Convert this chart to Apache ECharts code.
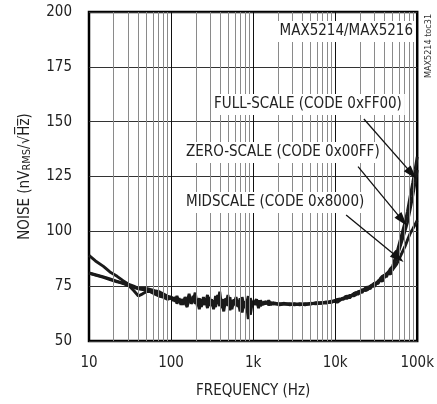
<!DOCTYPE html>
<html><head><meta charset="utf-8">
<script src="https://cdn.jsdelivr.net/npm/echarts@6/dist/echarts.min.js"></script>
<style>html,body{margin:0;padding:0;background:#fff}#c{width:437px;height:404px}</style>
</head><body><div id="c"></div>
<script>
var FONT = "'DejaVu Sans Condensed','Liberation Sans Narrow',sans-serif";
var freq = [10,12,15,18,22,26,30,35,40,45,50,56,63,71,80,90,100,
106,112,118,125,132,140,148,157,166,176,186,197,209,221,234,248,262,278,294,311,
330,349,370,392,415,439,465,493,522,552,585,619,656,694,735,779,825,873,925,980,
1038,1099,1164,1233,1306,1383,1465,1551,1643,1740,
1900,2100,2400,2800,3200,3700,4300,5000,5800,6700,7800,9000,
10000,10600,11200,11900,12600,13300,14100,15000,15800,16800,17800,18900,20000,21200,22400,23700,25100,26600,28200,29900,
31600,33500,35500,37600,39800,42200,44700,47300,50100,
56200,63100,70800,76000,82000,88000,94000,100000];
var fullScale = [89,86.5,84,81.5,79.5,77.5,76,75,74,74,74,73.5,73,72.5,71.5,70.5,70,
69.5,68,70.5,67.5,69,66.5,70,68,71.5,67,68.5,72,66,69.5,65.5,70,67,71,66,69,
64.5,70.5,67,72.5,65,69,66.5,71,64,68.5,67,70,65.5,69.5,63,68,66.5,70.5,62,68,
67.5,69,65,68.5,66.5,68,67,68.5,66.5,67.5,
67,66.8,67.2,66.5,67,66.5,66.8,67,67.2,67.5,67.3,68.2,
68,68.8,68.3,69.2,69.5,68.8,70.2,70.8,71.5,70.6,71,72.4,72.8,72,73.5,74.4,74.5,73.8,75,76.4,
77,76.2,78.5,79.5,80,79.2,81.5,83,84,
90,97,104,109,116,122,128,134];
var zeroScale = [81,80,79,78,77,76.5,75.5,73,70.5,71.5,72.5,72.5,72,71.5,70.5,70,69.5,
68.5,70,67,69.5,66.5,69,67.5,65.5,69,68,70.5,67,68.5,64.5,69,66.5,68.5,65,70,66,
68.5,65.5,71,66.5,68,63.5,69.5,66,70,64.5,69,66,68.5,63.5,70,65,68,60,69.5,66,
68,66.5,68.5,66,67.5,67,68,66.5,67.5,67,
67.2,66.5,67,66.8,66.5,67,66.5,67.2,67,67.2,67.8,67.5,
68.5,67.6,68.2,69,69,70.2,70.5,69.6,70.5,71.6,72,71.2,72,73.4,74,73,73.5,75,75.5,74.8,
76,77.5,78,77.2,79,80.6,81,80.4,83,
88,94,100,104,110,116,122,128];
var midScale = [81,80.2,79.2,78.3,77.2,76.2,75.2,74.5,73.8,73.5,73,72.5,71.5,70.5,70,69,69.5,
69,68.5,69.5,68,68.5,67.5,69,67,68.5,68,67.5,69,67,68,66.5,68.5,67.5,67,69,66.5,
68,67,68.5,66,69,67,67.5,66.5,68.5,66,67.5,67,68,65.5,67.5,66.5,67,66,67.5,66.5,
67,67.5,66.5,67.5,67,67,67.5,66.5,67,67,
66.8,67,66.8,67,66.8,66.8,67,66.8,67.5,67.3,67.5,68,
68.5,68.9,68.5,69.2,69.5,69.2,69.5,70.4,71,71.4,72,72.2,72.5,72.6,73,73.8,74.5,74.8,75.5,76,
76.5,77,77.5,78.5,80,80.6,81.5,82,82.5,
85,89,93,96,99,101,103,105];
var xTickValues = [10,100,1000,10000,100000];
var xTickLabels = ['10','100','1k','10k','100k'];
var yTicks = [50,75,100,125,150,175,200];
var seriesNames = ['FULL-SCALE (CODE 0xFF00)','ZERO-SCALE (CODE 0x00FF)','MIDSCALE (CODE 0x8000)'];
// arrows: [startFreq, startVal, tipFreq, tipVal]
var arrows = [[22400,151.2,86000,126.3],[19000,129.5,66000,105],[13600,107.5,58600,88]];

var minorX = [], majorX = [];
for (var d = 10; d < 100000; d *= 10) { for (var m = 2; m <= 9; m++) minorX.push(d*m); if (d > 10) majorX.push(d); }

function pairs(vals){ return freq.map(function(f,i){ return [f, vals[i]]; }); }
var lineStyle = {color:'#1a1a1a', width:2.9};
var FS = 15;
var chart = echarts.init(document.getElementById('c'));
chart.setOption({
  animation:false,
  grid:{left:89, right:15, top:12, bottom:60, show:true, borderColor:'#000', borderWidth:2.5, backgroundColor:'transparent'},
  xAxis:{type:'log', logBase:10, min:10, max:100000,
    name:'FREQUENCY (Hz)', nameLocation:'middle', nameGap:43,
    nameTextStyle:{fontFamily:FONT, fontSize:FS, color:'#222'},
    axisLine:{show:false}, axisTick:{show:false}, splitLine:{show:false},
    axisLabel:{fontFamily:FONT, fontSize:FS, color:'#222', margin:15,
      formatter:function(v){ var i = xTickValues.indexOf(Math.round(v)); return i>=0 ? xTickLabels[i] : ''; }}
  },
  yAxis:{type:'value', min:yTicks[0], max:yTicks[yTicks.length-1], interval:25,
    name:'{a|NOISE (nV}{s|RMS}{a|/√H\u0305z\u0305)}', nameLocation:'middle', nameGap:56,
    nameTextStyle:{rich:{a:{fontFamily:FONT, fontSize:FS, color:'#222'}, s:{fontFamily:FONT, fontSize:11, color:'#222', padding:[5,0,0,0]}}},
    axisLine:{show:false}, axisTick:{show:false},
    splitLine:{show:true, lineStyle:{color:'#333', width:1}},
    axisLabel:{fontFamily:FONT, fontSize:FS, color:'#222', margin:17}
  },
  series:[
    {type:'line', z:1, data:[], silent:true,
     markLine:{silent:true, symbol:'none', label:{show:false},
       data: minorX.map(function(x){ return {xAxis:x, lineStyle:{color:'#8a8a8a', width:1, type:'solid'}}; })
         .concat(majorX.map(function(x){ return {xAxis:x, lineStyle:{color:'#111', width:1, type:'solid'}}; }))}
    },
    {name:seriesNames[0], type:'line', z:3, showSymbol:false, data:pairs(fullScale), lineStyle:lineStyle},
    {name:seriesNames[1], type:'line', z:3, showSymbol:false, data:pairs(zeroScale), lineStyle:lineStyle},
    {name:seriesNames[2], type:'line', z:3, showSymbol:false, data:pairs(midScale), lineStyle:lineStyle,
     markLine:{silent:true, symbol:['none','triangle'], symbolSize:[9,14], label:{show:false},
       lineStyle:{color:'#111', width:1.3, type:'solid'},
       data: arrows.map(function(a){ return [{coord:[a[0],a[1]]},{coord:[a[2],a[3]]}]; })}
    }
  ],
  graphic:{elements:[
    {type:'text', z:100, right:22, top:21, style:{text:'MAX5214/MAX5216', font:FS+'px '+FONT, fill:'#222', backgroundColor:'#fff', padding:[3,2,3,2]}},
    {type:'text', z:100, left:211, top:94, style:{text:seriesNames[0], font:FS+'px '+FONT, fill:'#222', backgroundColor:'#fff', padding:[3,3,3,3]}},
    {type:'text', z:100, left:183, top:142, style:{text:seriesNames[1], font:FS+'px '+FONT, fill:'#222', backgroundColor:'#fff', padding:[3,3,3,3]}},
    {type:'text', z:100, left:183, top:192, style:{text:seriesNames[2], font:FS+'px '+FONT, fill:'#222', backgroundColor:'#fff', padding:[3,3,3,3]}},
    {type:'text', z:100, x:429, y:46, rotation:Math.PI/2, style:{text:'MAX5214 toc31', font:'9px '+FONT, fill:'#333', align:'center', verticalAlign:'middle'}}
  ]}
});
</script></body></html>
